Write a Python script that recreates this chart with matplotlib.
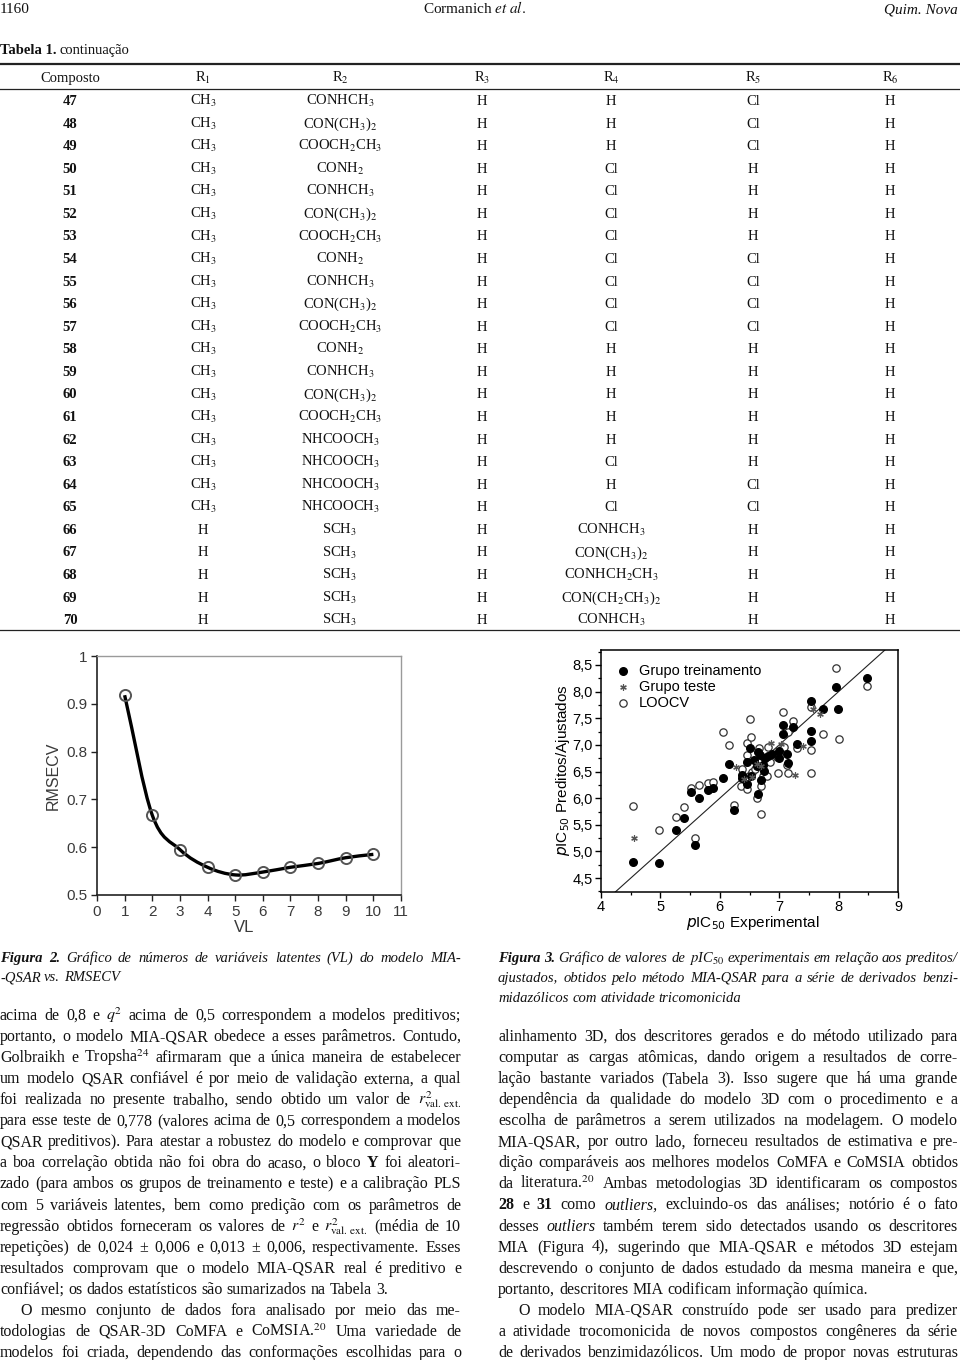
import re
import numpy as np
import matplotlib
matplotlib.use('Agg')
import matplotlib.pyplot as plt
from matplotlib.lines import Line2D
from matplotlib.path import Path
from matplotlib.patches import PathPatch
from matplotlib.ticker import FixedLocator, MultipleLocator

# ------------------------------------------------------------------ data
table_header = ['Composto', 'R1', 'R2', 'R3', 'R4', 'R5', 'R6']
compounds = ['47', '48', '49', '50', '51', '52', '53', '54', '55', '56', '57', '58',
             '59', '60', '61', '62', '63', '64', '65', '66', '67', '68', '69', '70']
r1 = ['CH3'] * 19 + ['H'] * 5
r2 = ['CONHCH3', 'CON(CH3)2', 'COOCH2CH3', 'CONH2', 'CONHCH3', 'CON(CH3)2', 'COOCH2CH3',
      'CONH2', 'CONHCH3', 'CON(CH3)2', 'COOCH2CH3', 'CONH2', 'CONHCH3', 'CON(CH3)2',
      'COOCH2CH3', 'NHCOOCH3', 'NHCOOCH3', 'NHCOOCH3', 'NHCOOCH3', 'SCH3', 'SCH3',
      'SCH3', 'SCH3', 'SCH3']
r3 = ['H'] * 24
r4 = ['H', 'H', 'H', 'Cl', 'Cl', 'Cl', 'Cl', 'Cl', 'Cl', 'Cl', 'Cl', 'H', 'H', 'H', 'H',
      'H', 'Cl', 'H', 'Cl', 'CONHCH3', 'CON(CH3)2', 'CONHCH2CH3', 'CON(CH2CH3)2', 'CONHCH3']
r5 = ['Cl', 'Cl', 'Cl', 'H', 'H', 'H', 'H', 'Cl', 'Cl', 'Cl', 'Cl', 'H', 'H', 'H', 'H',
      'H', 'H', 'Cl', 'Cl', 'H', 'H', 'H', 'H', 'H']
r6 = ['H'] * 24

# Figura 2: latent variables vs RMSECV
vl = [1, 2, 3, 4, 5, 6, 7, 8, 9, 10]
rmsecv = [0.918, 0.667, 0.595, 0.558, 0.542, 0.548, 0.558, 0.566, 0.578, 0.585]
vl_ticks = [0, 1, 2, 3, 4, 5, 6, 7, 8, 9, 10, 11]
rmsecv_ticks = [0.5, 0.6, 0.7, 0.8, 0.9, 1.0]
rmsecv_ticklabels = ['0.5', '0.6', '0.7', '0.8', '0.9', '1']

# Figura 3: experimental vs predicted pIC50
train_exp = [4.54, 4.98, 5.27, 5.40, 5.59, 5.51, 5.65, 5.80, 5.88, 6.05, 6.16, 6.24, 6.38,
             6.45, 6.45, 6.51, 6.52, 6.64, 6.65, 6.67, 6.72, 6.74, 6.70, 6.81, 6.88, 6.99,
             6.99, 7.07, 7.07, 7.13, 7.15, 7.23, 7.30, 7.53, 7.53, 7.54, 7.73, 7.96, 7.99,
             8.48, 6.38, 6.58, 6.76, 6.62]
train_pred = [4.81, 4.78, 5.40, 5.62, 5.12, 6.11, 6.01, 6.16, 6.19, 6.38, 6.64, 5.77, 6.43,
              6.26, 6.67, 6.94, 6.41, 6.07, 6.87, 6.81, 6.63, 6.51, 6.34, 6.80, 6.83, 6.89,
              6.75, 7.38, 7.20, 6.83, 6.66, 7.33, 7.01, 7.83, 7.26, 7.08, 7.68, 8.09, 7.68,
              8.26, 6.38, 6.72, 6.76, 6.60]
test_exp = [4.56, 6.27, 6.40, 6.62, 6.86, 7.03, 7.27, 7.40, 7.57, 7.69, 6.55, 6.70]
test_pred = [5.25, 6.58, 6.36, 6.65, 7.04, 7.02, 6.43, 6.97, 7.67, 7.57, 6.40, 6.60]
loocv_exp = [4.54, 4.98, 5.27, 5.40, 5.59, 5.51, 5.65, 5.80, 5.88, 6.05, 6.16, 6.24, 6.35,
             6.38, 6.45, 6.45, 6.45, 6.51, 6.52, 6.54, 6.62, 6.66, 6.67, 6.70, 6.70, 6.72,
             6.74, 6.79, 6.81, 6.97, 6.98, 7.07, 7.08, 7.13, 7.15, 7.15, 7.23, 7.30, 7.53,
             7.53, 7.54, 7.73, 7.96, 8.00, 8.48, 6.60, 6.85]
loocv_pred = [5.85, 5.41, 5.64, 5.83, 5.25, 6.19, 6.24, 6.28, 6.30, 7.25, 6.99, 5.88, 6.23,
              6.54, 7.03, 6.81, 6.17, 7.49, 7.15, 6.49, 6.00, 6.94, 6.70, 6.23, 5.70, 6.41,
              6.75, 6.42, 6.96, 6.77, 6.48, 7.62, 6.96, 6.62, 7.25, 6.48, 7.44, 6.94, 7.71,
              6.90, 6.48, 7.20, 8.44, 7.11, 8.11, 6.55, 6.68]
exp_ticks = [4, 5, 6, 7, 8, 9]
exp_ticklabels = ['4', '5', '6', '7', '8', '9']
pred_ticks = [4.5, 5.0, 5.5, 6.0, 6.5, 7.0, 7.5, 8.0, 8.5]
pred_ticklabels = ['4,5', '5,0', '5,5', '6,0', '6,5', '7,0', '7,5', '8,0', '8,5']
legend_labels = ['Grupo treinamento', 'Grupo teste', 'LOOCV']

# Page texts
RVE = r'$\mathit{r}^{2}_{\mathrm{val.\,ext.}}$'
caption2 = [r'BI:Figura BI:2. Gráfico de números de variáveis latentes (VL) do modelo MIA-',
            r'-QSAR vs. RMSECV']
caption3 = [r'BI:Figura BI:3. Gráfico de valores de $\mathit{p}$IC$_{50}$ experimentais em relação aos preditos/',
            r'ajustados, obtidos pelo método MIA-QSAR para a série de derivados benzi-',
            r'midazólicos com atividade tricomonicida']
left_body = [
    r'acima de 0,8 e $\mathit{q}^{2}$ acima de 0,5 correspondem a modelos preditivos;',
    r'portanto, o modelo MIA-QSAR obedece a esses parâmetros. Contudo,',
    r'Golbraikh e Tropsha$^{24}$ afirmaram que a única maneira de estabelecer',
    r'um modelo QSAR confiável é por meio de validação externa, a qual',
    r'foi realizada no presente trabalho, sendo obtido um valor de ' + RVE,
    r'para esse teste de 0,778 (valores acima de 0,5 correspondem a modelos',
    r'QSAR preditivos). Para atestar a robustez do modelo e comprovar que',
    r'a boa correlação obtida não foi obra do acaso, o bloco B:Y foi aleatori-',
    r'zado (para ambos os grupos de treinamento e teste) e a calibração PLS',
    r'com 5 variáveis latentes, bem como predição com os parâmetros de',
    r'regressão obtidos forneceram os valores de $\mathit{r}^{2}$ e ' + RVE + r' (média de 10',
    r'repetições) de 0,024 ± 0,006 e 0,013 ± 0,006, respectivamente. Esses',
    r'resultados comprovam que o modelo MIA-QSAR real é preditivo e',
    r'confiável; os dados estatísticos são sumarizados na Tabela 3.',
    r'O mesmo conjunto de dados fora analisado por meio das me-',
    r'todologias de QSAR-3D CoMFA e CoMSIA.$^{20}$ Uma variedade de',
    r'modelos foi criada, dependendo das conformações escolhidas para o',
]
left_flags = ['j'] * 13 + ['l', 'ij', 'j', 'j']
right_body = [
    r'alinhamento 3D, dos descritores gerados e do método utilizado para',
    r'computar as cargas atômicas, dando origem a resultados de corre-',
    r'lação bastante variados (Tabela 3). Isso sugere que há uma grande',
    r'dependência da qualidade do modelo 3D com o procedimento e a',
    r'escolha de parâmetros a serem utilizados na modelagem. O modelo',
    r'MIA-QSAR, por outro lado, forneceu resultados de estimativa e pre-',
    r'dição comparáveis aos melhores modelos CoMFA e CoMSIA obtidos',
    r'da literatura.$^{20}$ Ambas metodologias 3D identificaram os compostos',
    r'B:28 e B:31 como I:outliers, excluindo-os das análises; notório é o fato',
    r'desses I:outliers também terem sido detectados usando os descritores',
    r'MIA (Figura 4), sugerindo que MIA-QSAR e métodos 3D estejam',
    r'descrevendo o conjunto de dados estudado da mesma maneira e que,',
    r'portanto, descritores MIA codificam informação química.',
    r'O modelo MIA-QSAR construído pode ser usado para predizer',
    r'a atividade trocomonicida de novos compostos congêneres da série',
    r'de derivados benzimidazólicos. Um modo de propor novas estruturas',
]
right_flags = ['j'] * 12 + ['l', 'ij', 'j', 'j']

# ------------------------------------------------------------------ figure
W, H = 960, 1360
SERIF = 'Liberation Serif'
SANS = 'Liberation Sans'
TXT = '#111111'

fig = plt.figure(figsize=(W / 100, H / 100), dpi=100)
fig.patch.set_facecolor('white')
renderer = fig.canvas.get_renderer()


def fx(x):
    return x / W


def fy(y):
    return 1 - y / H


def ftext(x, y, s, size, ha='left', style='normal', weight='normal', family=SERIF, color=TXT):
    return fig.text(fx(x), fy(y), s, fontsize=size, ha=ha, va='baseline', fontstyle=style,
                    fontweight=weight, family=family, color=color, math_fontfamily='stix')


def text_line(line, x0, x1, y, size, justify=True, indent=0, style='normal', weight='normal'):
    objs = []
    for w in line.split(' '):
        st, wt = style, weight
        if w.startswith('BI:'):
            w, st, wt = w[3:], 'italic', 'bold'
        elif w.startswith('B:'):
            w, wt = w[2:], 'bold'
        elif w.startswith('I:'):
            w, st = w[2:], 'italic'
        elif w.startswith('R:'):
            w, st = w[2:], 'normal'
        objs.append(ftext(0, 0, w, size, style=st, weight=wt))
    widths = [t.get_window_extent(renderer).width for t in objs]
    space = size * 100 / 72 * 0.25
    avail = x1 - x0 - indent
    if justify and len(objs) > 1:
        gap = (avail - sum(widths)) / (len(objs) - 1)
    else:
        gap = space
    x = x0 + indent
    for t, w in zip(objs, widths):
        t.set_position((fx(x), fy(y)))
        x += w + gap


def chem(s):
    return re.sub(r'(\d)', r'$_{\1}$', s)


# ---- page header
ftext(0, 13, '1160', 11)
ftext(475, 13, r'Cormanich $\mathit{et\ al.}$', 11, ha='center')
ftext(958, 13, 'Quim. Nova', 11, ha='right', style='italic')
ftext(0, 54, 'Tabela 1.', 10.5, weight='bold')
ftext(60, 54, 'continuação', 10.5)

# ---- table
col_x = [70, 203, 340, 482, 611, 753, 890]
for x, h in zip(col_x, table_header):
    ftext(x, 82, chem(h) if h.startswith('R') else h, 10.5, ha='center')
row_step = 22.57
for i, c in enumerate(compounds):
    yb = 105 + i * row_step
    ftext(col_x[0], yb, c, 10.5, ha='center', weight='bold')
    for x, col in zip(col_x[1:], [r1, r2, r3, r4, r5, r6]):
        ftext(x, yb, chem(col[i]), 10.5, ha='center')
for y, lw in [(64, 1.6), (89, 0.9), (630, 0.9)]:
    fig.add_artist(Line2D([0, 1], [fy(y), fy(y)], color='#222222', lw=lw))

# ---- Figura 2 plot
ax1 = fig.add_axes([fx(97), fy(895), 304 / W, 239 / H])
ax1.set_xlim(0, 11)
ax1.set_ylim(0.5, 1.0)
pts = np.column_stack([vl, rmsecv]).astype(float)
ext = np.vstack([pts[0] - (pts[1] - pts[0]), pts, pts[-1] + (pts[-1] - pts[-2])])
verts = [tuple(pts[0])]
codes = [Path.MOVETO]
for k in range(1, len(ext) - 2):
    p0, p1, p2, p3 = ext[k - 1], ext[k], ext[k + 1], ext[k + 2]
    c1 = p1 + (p2 - p0) / 6.0
    c2 = p2 - (p3 - p1) / 6.0
    verts += [tuple(c1), tuple(c2), tuple(p2)]
    codes += [Path.CURVE4] * 3
ax1.add_patch(PathPatch(Path(verts, codes), fill=False, color='black', lw=2.4, zorder=2))
ax1.plot(vl, rmsecv, 'o', ms=8, mfc='none', mec='#555555', mew=1.4, zorder=3)
ax1.set_xticks(vl_ticks)
ax1.set_yticks(rmsecv_ticks)
ax1.set_yticklabels(rmsecv_ticklabels)
ax1.tick_params(direction='out', length=4, width=1, labelsize=11, labelcolor='#3a3a3a',
                colors='#222222', pad=3)
for lab in ax1.get_xticklabels() + ax1.get_yticklabels():
    lab.set_family(SANS)
for s in ['left', 'bottom']:
    ax1.spines[s].set_color('#222222')
    ax1.spines[s].set_linewidth(1.2)
for s in ['top', 'right']:
    ax1.spines[s].set_color('#9a9a9a')
    ax1.spines[s].set_linewidth(1.0)
ax1.text(-0.145, 0.5, 'RMSECV', rotation=90, ha='center', va='center', transform=ax1.transAxes,
         fontsize=11.5, family=SANS, color='#3a3a3a')
ax1.text(0.484, -0.138, 'VL', ha='center', va='center', transform=ax1.transAxes,
         fontsize=12, family=SANS, color='#3a3a3a')

# ---- Figura 3 plot
ax2 = fig.add_axes([fx(601), fy(892), 297 / W, 242 / H])
ax2.set_xlim(4, 9)
ax2.set_ylim(4.24, 8.78)
ax2.plot([4, 9], [4, 9], color='#222222', lw=0.8, zorder=1)
h_lo = ax2.scatter(loocv_exp, loocv_pred, s=28, facecolors='white', edgecolors='#333333',
                   linewidths=0.9, zorder=2)
h_tr = ax2.scatter(train_exp, train_pred, s=30, color='black', zorder=3)
h_te = ax2.scatter(test_exp, test_pred, s=16, marker=(6, 2, 0), color='#555555',
                   linewidths=0.9, zorder=4)
ax2.xaxis.set_major_locator(FixedLocator(exp_ticks))
ax2.set_xticklabels(exp_ticklabels)
ax2.xaxis.set_minor_locator(MultipleLocator(0.5))
ax2.yaxis.set_major_locator(FixedLocator(pred_ticks))
ax2.set_yticklabels(pred_ticklabels)
ax2.yaxis.set_minor_locator(MultipleLocator(0.25))
ax2.tick_params(which='major', direction='out', length=4, width=1, labelsize=10.5, pad=2)
ax2.tick_params(which='minor', direction='out', length=2.5, width=0.9)
for lab in ax2.get_xticklabels() + ax2.get_yticklabels():
    lab.set_family(SANS)
for s in ax2.spines.values():
    s.set_linewidth(1.1)
ax2.text(-0.128, 0.504, r'$\mathit{p}$IC$_{50}$ Preditos/Ajustados', rotation=90, ha='center',
         va='center', transform=ax2.transAxes, fontsize=11, family=SANS,
         math_fontfamily='dejavusans')
ax2.text(0.512, -0.128, r'$\mathit{p}$IC$_{50}$ Experimental', ha='center', va='center',
         transform=ax2.transAxes, fontsize=11, family=SANS, math_fontfamily='dejavusans')
leg = ax2.legend([h_tr, h_te, h_lo], legend_labels, loc='upper left',
                 bbox_to_anchor=(0.02, 0.985), frameon=False,
                 handlelength=0.8, handletextpad=0.7, labelspacing=0.15, borderpad=0.2,
                 prop={'family': SANS, 'size': 10.5})

# ---- captions
text_line(caption2[0], 0, 461, 962, 10.5, justify=True, style='italic')
text_line(caption2[1], 0, 461, 981, 10.5, justify=False, style='italic')
for i, line in enumerate(caption3):
    text_line(line, 498, 958, 962 + i * 20, 10.5, justify=(i < 2), style='italic')

# ---- body text
step = 21.06
for i, (line, fl) in enumerate(zip(left_body, left_flags)):
    text_line(line, 0, 461, 1020 + i * step, 11.5, justify=('j' in fl),
              indent=(20 if 'i' in fl else 0))
for i, (line, fl) in enumerate(zip(right_body, right_flags)):
    text_line(line, 498, 958, 1041 + i * step, 11.5, justify=('j' in fl),
              indent=(20 if 'i' in fl else 0))

fig.savefig('out.png', dpi=100, facecolor='white')
